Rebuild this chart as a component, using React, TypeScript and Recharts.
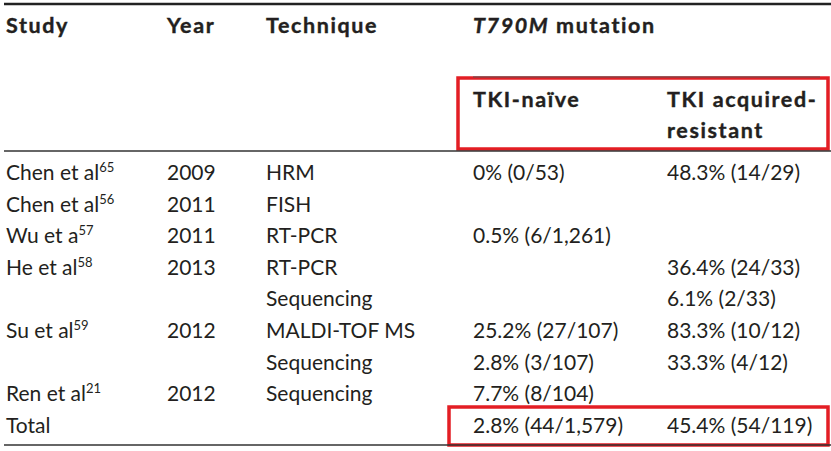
import React from "react";
import { ReferenceArea, ReferenceLine, Scatter, ScatterChart, XAxis, YAxis } from "recharts";

// table body, one entry per row
const studies = ["Chen et al", "Chen et al", "Wu et a", "He et al", "", "Su et al", "", "Ren et al", "Total"];
const studyRefs = ["65", "56", "57", "58", "", "59", "", "21", ""];
const years = ["2009", "2011", "2011", "2013", "", "2012", "", "2012", ""];
const techniques = ["HRM", "FISH", "RT-PCR", "RT-PCR", "Sequencing", "MALDI-TOF MS", "Sequencing", "Sequencing", ""];
const tkiNaive = ["0% (0/53)", "", "0.5% (6/1,261)", "", "", "25.2% (27/107)", "2.8% (3/107)", "7.7% (8/104)", "2.8% (44/1,579)"];
const tkiResistant = ["48.3% (14/29)", "", "", "36.4% (24/33)", "6.1% (2/33)", "83.3% (10/12)", "33.3% (4/12)", "", "45.4% (54/119)"];

const headerTop = ["Study", "Year", "Technique"];
const subHeaders = ["TKI-naïve", "TKI acquired-"];
const subHeaderWrap = "resistant";

// layout (x in px, y in row units; row i baseline = 180 + 31.6 * i)
const W = 831;
const H = 451;
const colX = [6, 167, 266, 473, 667];
const yDomain: [number, number] = [-180 / 31.6, (H - 180) / 31.6];
const headRow = -4.652;
const subRow = -2.31;
const wrapRow = -1.329;

const FONT = "Lato, 'Open Sans', sans-serif";
const INK = "#231f20";
const RED = "#e31e24";

type Cell = { x: number; y: number; label: string; sup?: string; bold?: boolean; italicPrefix?: string };

function column(values: string[], x: number, sups?: string[]): Cell[] {
  return values
    .map((label, i) => ({ x, y: i, label, sup: sups ? sups[i] : "" }))
    .filter((c) => c.label !== "");
}

const headerCells: Cell[] = [
  ...headerTop.map((label, i) => ({ x: colX[i], y: headRow, label, bold: true })),
  { x: colX[3], y: headRow, label: " mutation", italicPrefix: "T790M", bold: true },
  ...subHeaders.map((label, i) => ({ x: colX[3 + i], y: subRow, label, bold: true })),
  { x: colX[4], y: wrapRow, label: subHeaderWrap, bold: true },
];

function CellText(props: any) {
  const { cx, cy, payload } = props;
  if (cx == null || cy == null) return null;
  const c: Cell = payload;
  return (
    <text
      x={cx}
      y={cy}
      fill={INK}
      fontFamily={FONT}
      fontSize={c.bold ? 21.5 : 21}
      fontWeight={c.bold ? 700 : 400}
      letterSpacing={c.bold ? 1.6 : 0}
      stroke={c.bold ? INK : "none"}
      strokeWidth={c.bold ? 0.4 : 0}
    >
      {c.italicPrefix ? <tspan fontStyle="italic">{c.italicPrefix}</tspan> : null}
      {c.label}
      {c.sup ? (
        <tspan dy={-8} fontSize={13}>
          {c.sup}
        </tspan>
      ) : null}
    </text>
  );
}

export default function App() {
  const series = [
    headerCells,
    column(studies, colX[0], studyRefs),
    column(years, colX[1]),
    column(techniques, colX[2]),
    column(tkiNaive, colX[3]),
    column(tkiResistant, colX[4]),
  ];

  return (
    <div style={{ position: "absolute", left: 0, top: 0, background: "#fff" }}>
      <ScatterChart width={W} height={H} margin={{ top: 0, right: 0, bottom: 0, left: 0 }}>
        <XAxis type="number" dataKey="x" domain={[0, W]} hide />
        <YAxis type="number" dataKey="y" domain={yDomain} reversed hide />
        <ReferenceLine segment={[{ x: 4, y: -5.57 }, { x: W, y: -5.57 }]} stroke="#222" strokeWidth={2.5} />
        <ReferenceLine segment={[{ x: 473, y: -3.26 }, { x: 820, y: -3.26 }]} stroke="#555" strokeWidth={1} />
        <ReferenceLine segment={[{ x: 4, y: -0.918 }, { x: W, y: -0.918 }]} stroke="#333" strokeWidth={1.5} />
        <ReferenceLine segment={[{ x: 4, y: 8.386 }, { x: W, y: 8.386 }]} stroke="#333" strokeWidth={1.5} />
        {series.map((data, i) => (
          <Scatter key={i} data={data} shape={<CellText />} isAnimationActive={false} />
        ))}
        <ReferenceArea x1={458} x2={828} y1={-3.228} y2={-0.981} fill="none" stroke={RED} strokeWidth={3.5} />
        <ReferenceArea x1={449} x2={828} y1={7.184} y2={8.386} fill="none" stroke={RED} strokeWidth={3.5} />
      </ScatterChart>
    </div>
  );
}
